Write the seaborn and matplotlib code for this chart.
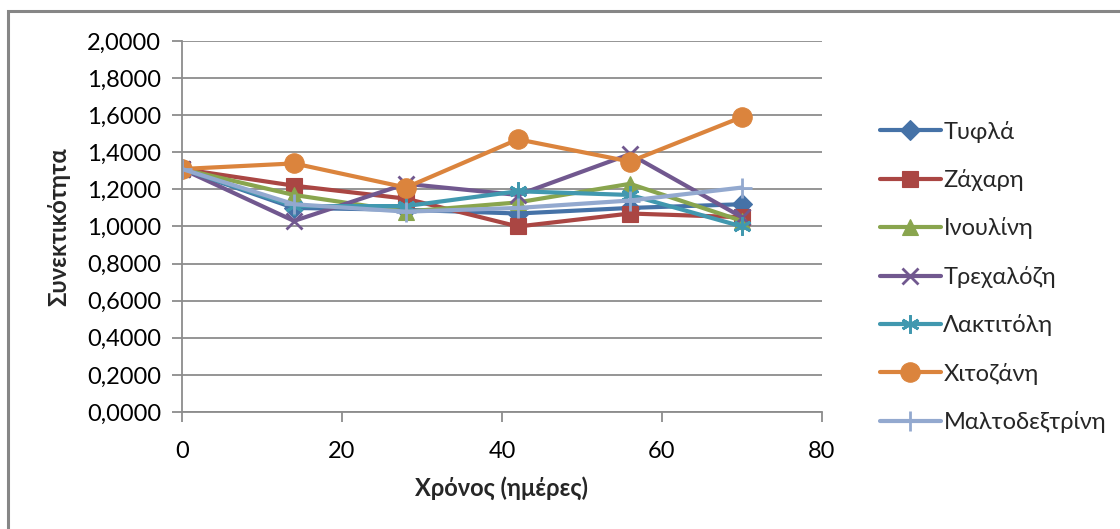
import matplotlib
matplotlib.use("Agg")
import matplotlib.pyplot as plt
import matplotlib.ticker as mticker
from matplotlib.patches import Rectangle
import seaborn as sns
import pandas as pd

sns.set_theme(style="white")
plt.rcParams["font.family"] = ["Lato", "DejaVu Sans"]

# Time points (days) and viscosity per treatment
days = [0, 14, 28, 42, 56, 70]
series_names = ["Τυφλά", "Ζάχαρη", "Ινουλίνη", "Τρεχαλόζη",
                "Λακτιτόλη", "Χιτοζάνη", "Μαλτοδεξτρίνη"]
tyfla = [1.31, 1.10, 1.09, 1.07, 1.10, 1.12]
zachari = [1.31, 1.22, 1.15, 1.00, 1.07, 1.05]
inoulini = [1.31, 1.17, 1.08, 1.13, 1.23, 1.03]
trechalozi = [1.31, 1.03, 1.23, 1.17, 1.39, 1.05]
laktitoli = [1.31, 1.11, 1.11, 1.19, 1.17, 1.00]
chitozani = [1.31, 1.34, 1.21, 1.47, 1.35, 1.59]
maltodextrini = [1.31, 1.12, 1.08, 1.10, 1.14, 1.21]

values = [tyfla, zachari, inoulini, trechalozi, laktitoli, chitozani, maltodextrini]
colors = ["#4572A7", "#AA4643", "#89A54E", "#71588F", "#4198AF", "#DB843D", "#93A9CF"]
markers = ["D", "s", "^", "x", (6, 2, 0), "o", "+"]
msizes = [10, 12, 11, 12, 13, 14, 14]

df = pd.DataFrame({
    "day": days * len(series_names),
    "value": [v for vals in values for v in vals],
    "series": [n for n in series_names for _ in days],
})

fig = plt.figure(figsize=(11.2, 5.29), dpi=100)
ax = fig.add_axes([0.1625, 0.2212, 0.5714, 0.7013])

for name, col, mk, ms in zip(series_names, colors, markers, msizes):
    sub = df[df["series"] == name]
    sns.lineplot(data=sub, x="day", y="value", ax=ax, color=col, lw=3.0,
                 marker=mk, markersize=ms, markeredgecolor=col,
                 markeredgewidth=2.0 if mk in ("x", "+") or isinstance(mk, tuple) else 0.8,
                 label=name, sort=False)

ax.set_xlim(0, 80)
ax.set_ylim(0, 2.0)
ax.set_xticks([0, 20, 40, 60, 80])
ax.set_yticks([i * 0.2 for i in range(11)])
ax.yaxis.set_major_formatter(mticker.FuncFormatter(lambda v, p: f"{v:.4f}".replace(".", ",")))

grid_col = "#8C8C8C"
ax.grid(axis="y", color=grid_col, lw=1.3)
ax.grid(axis="x", visible=False)
for s in ["top", "right"]:
    ax.spines[s].set_visible(False)
for s in ["left", "bottom"]:
    ax.spines[s].set_color(grid_col)
    ax.spines[s].set_linewidth(1.3)
ax.tick_params(axis="both", which="major", length=7, width=1.3, color=grid_col,
               labelsize=17, labelcolor="black", direction="out")
ax.tick_params(axis="x", pad=14)
ax.tick_params(axis="y", pad=8)
ax.tick_params(left=True, bottom=True)

ax.set_xlabel("Χρόνος (ημέρες)", fontsize=17, fontweight="bold", labelpad=10)
ax.set_ylabel("Συνεκτικότητα", fontsize=17, fontweight="bold", labelpad=12)

handles, labels = ax.get_legend_handles_labels()
if ax.legend_:
    ax.legend_.remove()
fig.legend(handles, labels, loc="upper left", bbox_to_anchor=(0.777, 0.79),
           frameon=False, fontsize=17, labelspacing=1.12, handlelength=2.6,
           handletextpad=0.1, borderaxespad=0)

fig.patches.append(Rectangle((8 / 1120, -0.1), 1.2, (529 - 11) / 529 + 0.1,
                             transform=fig.transFigure, fill=False,
                             edgecolor="#868686", lw=2.2))

fig.savefig("out.png", dpi=100)
